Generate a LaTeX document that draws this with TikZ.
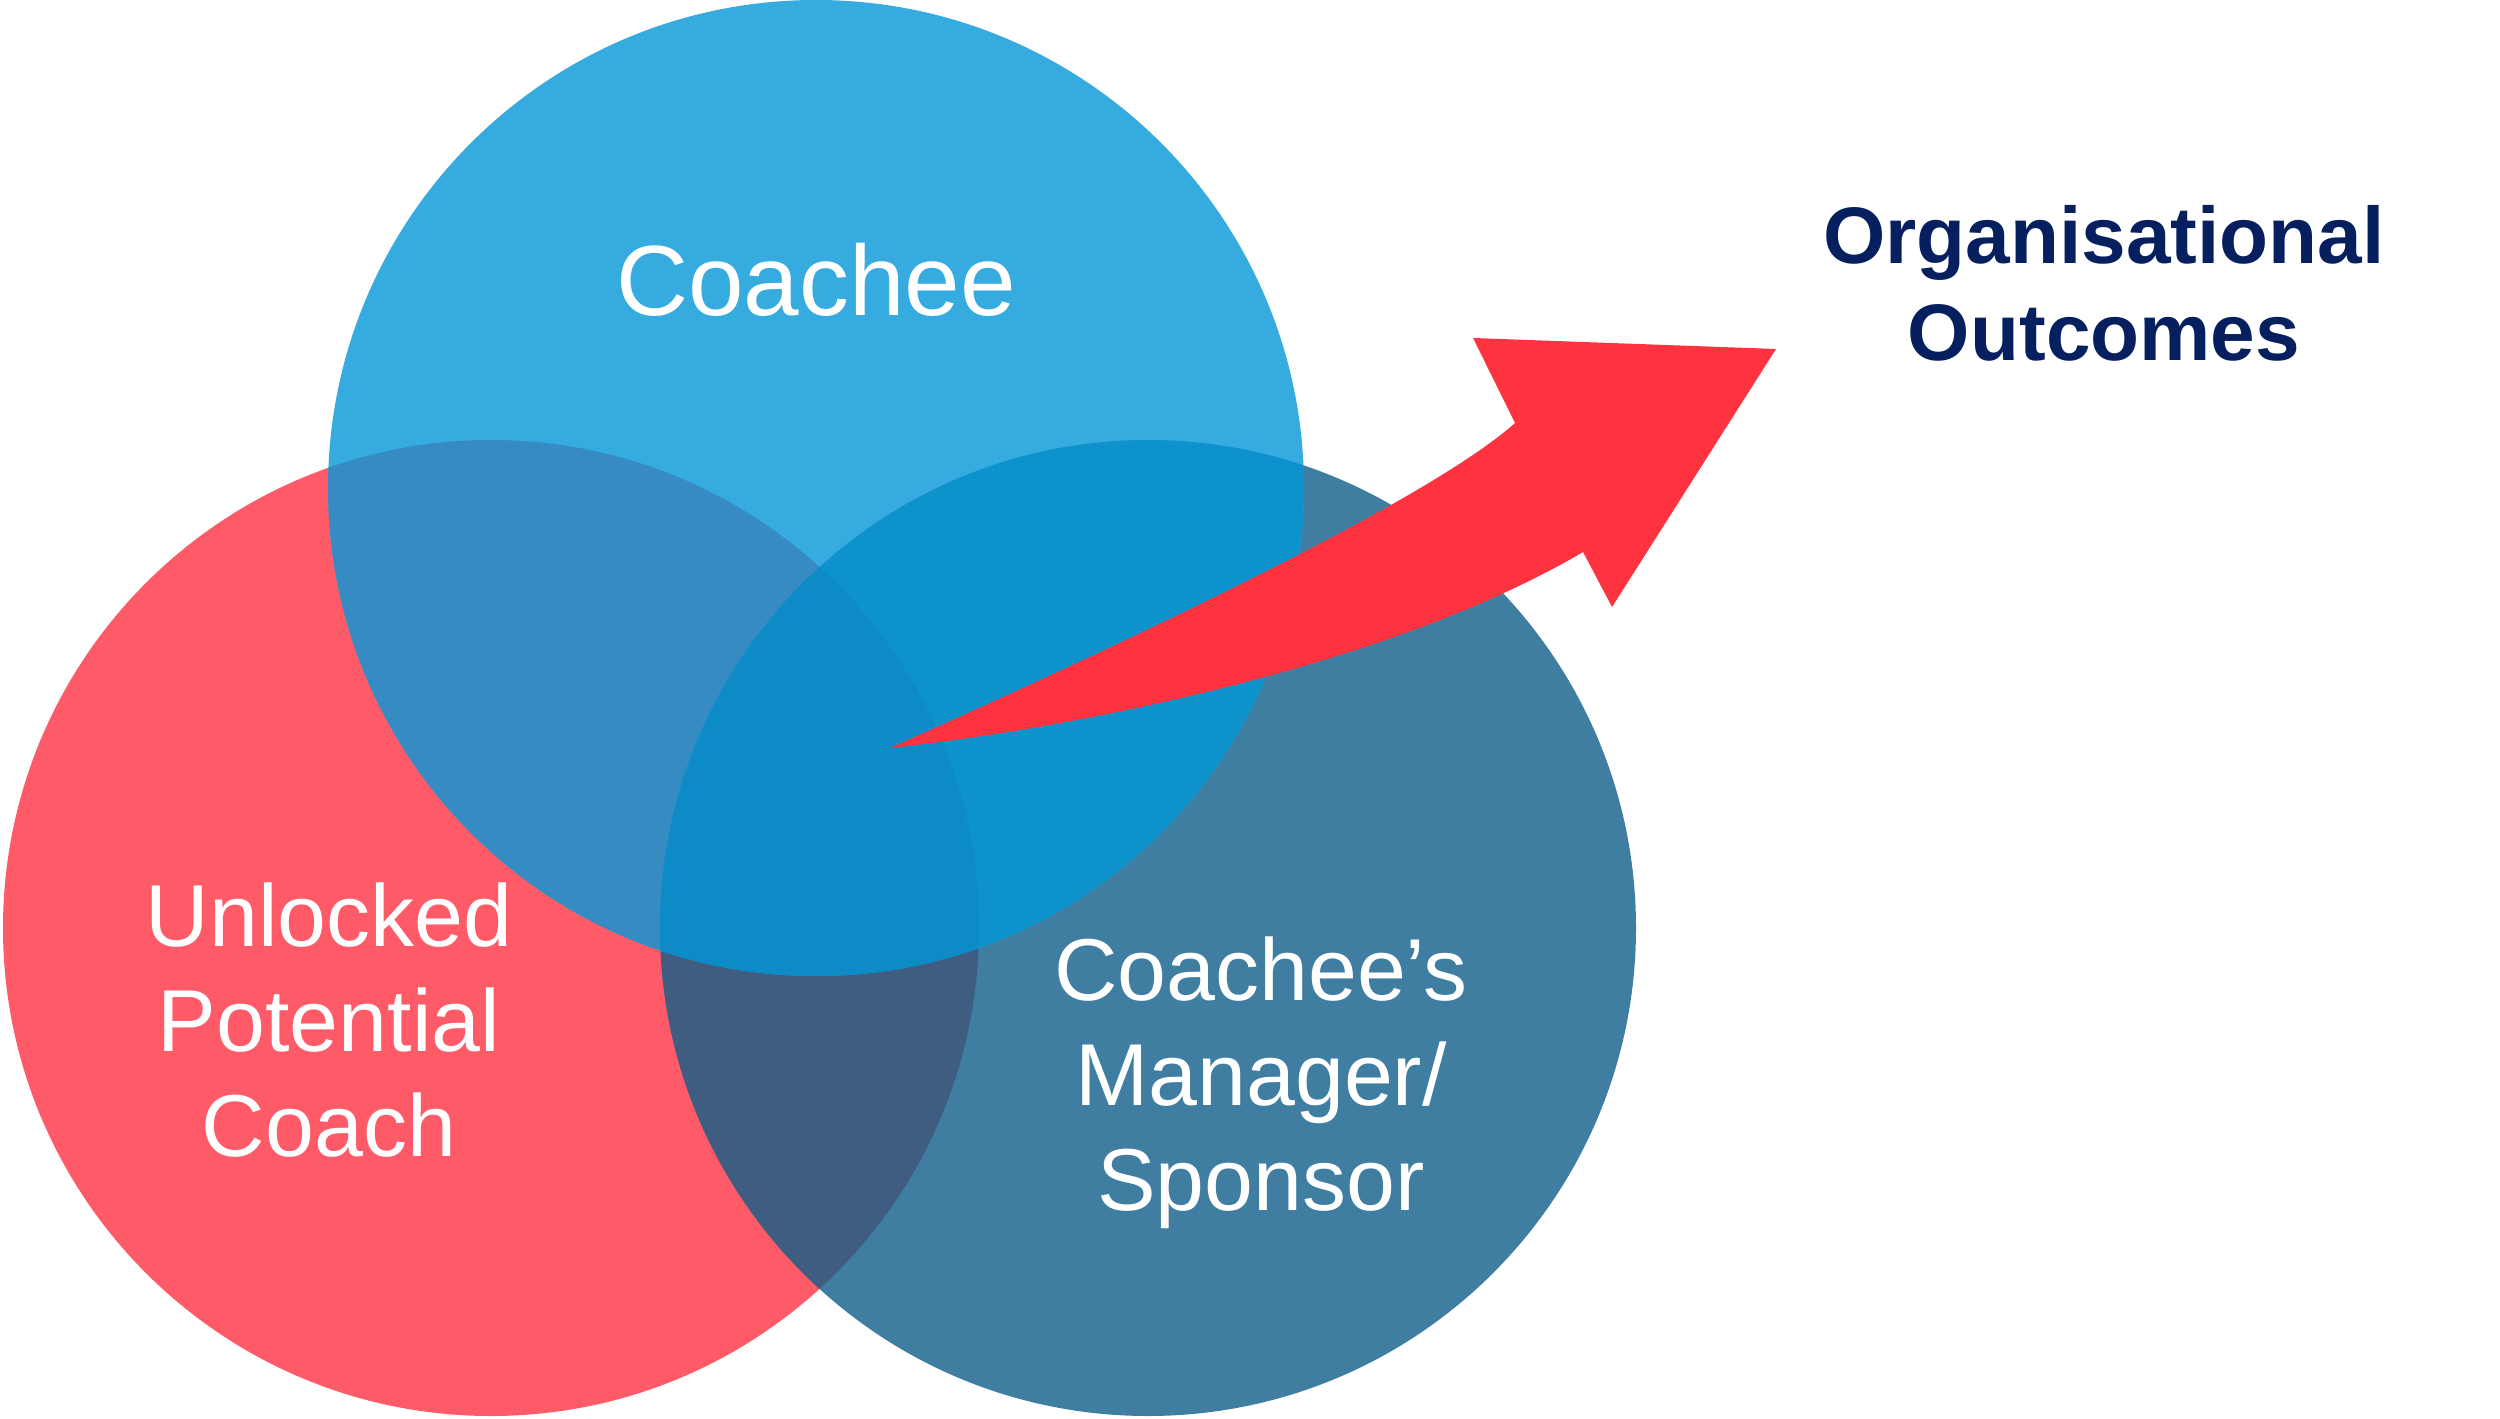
\documentclass[tikz,border=0pt]{standalone}
\usepackage{fontspec}
\setmainfont{Liberation Sans}
\definecolor{cred}{HTML}{FF5A67}
\definecolor{cblue}{HTML}{35ABE0}
\definecolor{cteal}{HTML}{3F7EA0}
\definecolor{crb}{HTML}{368BC2}
\definecolor{crt}{HTML}{3E5D80}
\definecolor{cbt}{HTML}{0E92CB}
\definecolor{call}{HTML}{0D8BC6}
\definecolor{carrow}{HTML}{FF3340}
\definecolor{cnavy}{HTML}{061F5F}
\begin{document}
\begin{tikzpicture}[x=0.01cm,y=-0.01cm,
  lbl/.style={text=white,align=center,inner sep=0pt,font=\fontsize{28.4}{29.9}\selectfont},
  mlbl/.style={text=white,align=center,inner sep=0pt,font=\fontsize{25}{29.9}\selectfont},
  outlbl/.style={text=cnavy,align=center,inner sep=0pt,font=\fontsize{22.8}{27.6}\selectfont\bfseries}]
\useasboundingbox (0,0) rectangle (2500,1419);
\coordinate (R) at (491,928);
\coordinate (B) at (816,488);
\coordinate (T) at (1148,928);
% base circles
\fill[cred] (R) circle (488);
\fill[cteal] (T) circle (488);
\fill[cblue] (B) circle (488);
% pairwise overlaps
\begin{scope}
  \clip (R) circle (488);
  \fill[crt] (T) circle (488);
  \fill[crb] (B) circle (488);
\end{scope}
\begin{scope}
  \clip (T) circle (488);
  \fill[cbt] (B) circle (488);
\end{scope}
% triple overlap
\begin{scope}
  \clip (R) circle (488);
  \clip (T) circle (488);
  \fill[call] (B) circle (488);
\end{scope}
% arrow
\fill[carrow] (890,748) .. controls (1200,610) and (1440,490) .. (1515,423)
  -- (1473,338) -- (1776,349) -- (1612,607) -- (1583,552)
  .. controls (1400,660) and (1100,725) .. cycle;
% labels
\node[lbl,anchor=base] (coachee) at (816,316) {Coachee};
\node[mlbl] (coach) at (329,1020) {Unlocked\\Potential\\Coach};
\node[mlbl] (manager) at (1261,1083) {Coachee’s\\Manager/\\Sponsor};
\node[outlbl] (outcomes) at (2104,283) {Organisational\\Outcomes};
\end{tikzpicture}
\end{document}
